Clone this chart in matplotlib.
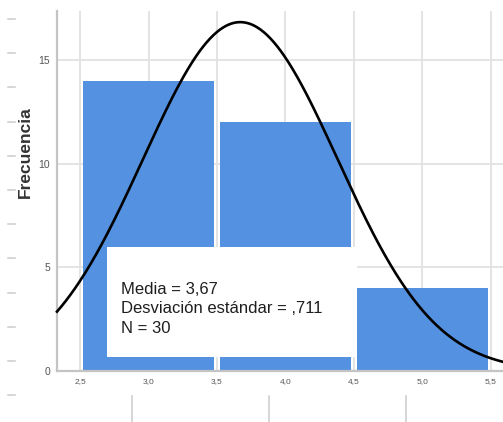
import numpy as np
import matplotlib
matplotlib.use("Agg")
import matplotlib.pyplot as plt
from matplotlib.lines import Line2D
from matplotlib.patches import Rectangle

plt.rcParams["font.family"] = ["Liberation Sans", "DejaVu Sans"]

# ── Data ──────────────────────────────────────────────────────────────────────
bin_left = [2.5, 3.5, 4.5]
counts = [14, 12, 4]
bin_width = 1.0
media = 3.67
desv = 0.711
n_total = 30

x_ticks = [2.5, 3.0, 3.5, 4.0, 4.5, 5.0, 5.5]
x_labels = ["2,5", "3,0", "3,5", "4,0", "4,5", "5,0", "5,5"]
y_ticks = [0, 5, 10, 15]
y_labels = ["0", "5", "10", "15"]

BAR_COLOR = "#5491e0"
GRID_COLOR = "#e2e2e2"
SPINE_COLOR = "#c4c4c4"
TICK_COLOR = "#555555"
BAR_GAP = 0.05   # white gap between neighbouring bars, in x units

# ── Figure ────────────────────────────────────────────────────────────────────
W, H = 503, 422
fig = plt.figure(figsize=(W / 100, H / 100), dpi=100)
ax = fig.add_axes([57 / W, 51 / H, 446 / W, 360 / H])
ax.set_xlim(2.332, 5.588)
ax.set_ylim(0, 17.37)

ax.bar(np.array(bin_left) + BAR_GAP / 2, counts, width=bin_width - BAR_GAP,
       align="edge", color=BAR_COLOR, linewidth=0, zorder=2)

# fitted normal curve
xs = np.linspace(*ax.get_xlim(), 400)
ys = n_total * bin_width / (desv * np.sqrt(2 * np.pi)) * np.exp(-0.5 * ((xs - media) / desv) ** 2)
ax.plot(xs, ys, color="black", lw=1.9, zorder=4, clip_on=False)

# statistics box
ax.add_patch(Rectangle((0.112, 0.039), 0.561, 0.306, transform=ax.transAxes,
                       facecolor="white", edgecolor="none", zorder=3))
ax.text(0.1435, 0.247, f"Media = 3,67\nDesviación estándar = ,711\nN = {n_total}",
        transform=ax.transAxes, ha="left", va="top", fontsize=12,
        color="#1e1e1e", linespacing=1.36, zorder=5)

ax.set_xticks(x_ticks)
ax.set_xticklabels(x_labels, fontsize=6, color=TICK_COLOR)
ax.set_yticks(y_ticks)
ax.set_yticklabels(y_labels, fontsize=7.5, color=TICK_COLOR)
ax.tick_params(length=0, pad=5)
ax.grid(True, color=GRID_COLOR, lw=1.3, zorder=0)
ax.set_axisbelow(True)

for side in ["top", "right"]:
    ax.spines[side].set_visible(False)
for side in ["left", "bottom"]:
    ax.spines[side].set_color(SPINE_COLOR)
    ax.spines[side].set_linewidth(1.6)

ax.set_ylabel("Frecuencia", fontsize=12.5, fontweight="bold", color="#333333")
ax.yaxis.set_label_coords(-0.054, 0.608)

# leftover ticks of the neighbouring panel (crop artefacts)
for py in np.arange(19, 400, 34.2):
    fig.add_artist(Line2D([8 / W, 15 / W], [1 - py / H, 1 - py / H],
                          color="#cccccc", lw=1.1))
for px in [132, 269, 406]:
    fig.add_artist(Line2D([px / W, px / W], [0, 1 - 396 / H],
                          color="#cccccc", lw=1.1))

fig.savefig("out.png", dpi=100)
